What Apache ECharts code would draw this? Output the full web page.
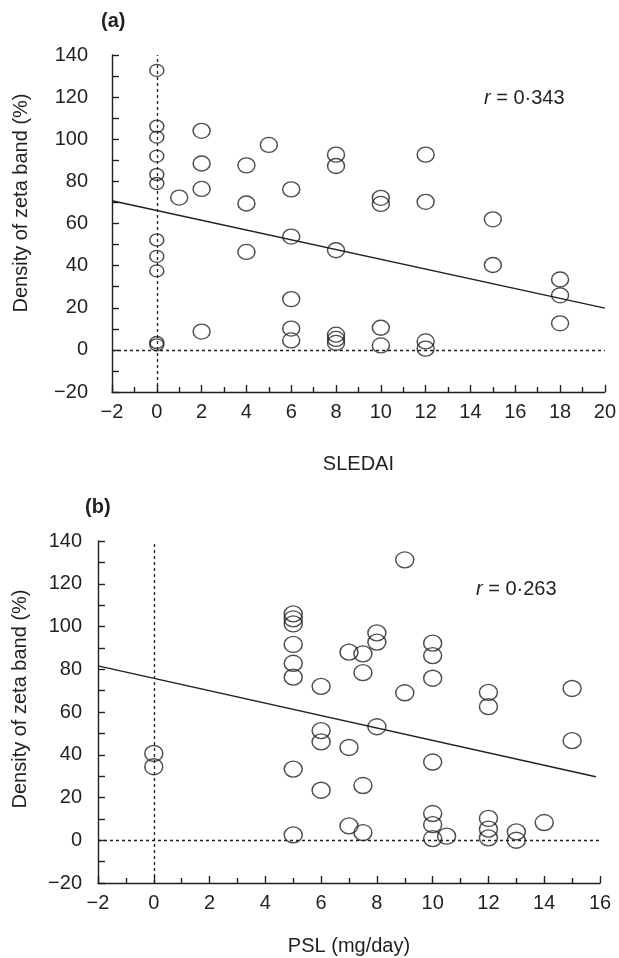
<!DOCTYPE html>
<html style="height: 100%">
<head>
  <meta charset="utf-8">
  <title>Density of zeta band</title>
  <script src="https://cdn.jsdelivr.net/npm/echarts@6/dist/echarts.min.js"></script>
</head>
<body style="height: 100%; margin: 0; background: #fff">
<div id="container" style="width: 619px; height: 958px"></div>
<script>
// panel (a): SLEDAI vs density of zeta band (%)
var sledaiZero = [[0, 132.7], [0, 106.2], [0, 101], [0, 92], [0, 83.3], [0, 79], [0, 52.2], [0, 44.4], [0, 37.5], [0, 3.5], [0, 2.4]];
var sledaiPoints = [
  [1, 72.3],
  [2, 104], [2, 88.5], [2, 76.4], [2, 8.7],
  [4, 87.6], [4, 69.5], [4, 46.5],
  [5, 97.3],
  [6, 76.2], [6, 53.8], [6, 24.1], [6, 10.1], [6, 4.5],
  [8, 92.7], [8, 87.3], [8, 47.3], [8, 7.2], [8, 5.2], [8, 3.3],
  [10, 72.2], [10, 69.3], [10, 10.5], [10, 2.1],
  [12, 92.7], [12, 70.3], [12, 4], [12, 0.6],
  [15, 62], [15, 40.3],
  [18, 33.4], [18, 25.9], [18, 12.6]
];
var sledaiFit = [[-2, 70.8], [20, 19.8]];

// panel (b): PSL (mg/day) vs density of zeta band (%)
var pslPoints = [
  [0, 40.6], [0, 34.4],
  [5, 105.9], [5, 103.6], [5, 101.2], [5, 91.6], [5, 82.8], [5, 76.3], [5, 33.3], [5, 2.5],
  [6, 72], [6, 51.3], [6, 46], [6, 23.4],
  [7, 88], [7, 43.4], [7, 6.7],
  [7.5, 87.2], [7.5, 78.4], [7.5, 25.6], [7.5, 3.6],
  [8, 97], [8, 92.7], [8, 53.1],
  [9, 131.2], [9, 69],
  [10, 92.2], [10, 86.4], [10, 75.8], [10, 36.6], [10, 12.5], [10, 7.3], [10, 0.8],
  [10.5, 1.9],
  [12, 69.2], [12, 62.5], [12, 10.2], [12, 5.2], [12, 1.1],
  [13, 3.9], [13, 0],
  [14, 8.3],
  [15, 71], [15, 46.6]
];
var pslFit = [[-2, 81.6], [15.85, 29.7]];

var ink = '#231f20';
var font = 'Liberation Sans';

function minus(v) { return v < 0 ? '\u2212' + Math.abs(v) : String(v); }

function xAxisOf(idx, min, max, name, gap) {
  return {
    gridIndex: idx, type: 'value', min: min, max: max, interval: 2,
    name: name, nameLocation: 'middle', nameGap: gap,
    nameTextStyle: { color: ink, fontSize: 20, fontFamily: font },
    axisLine: { show: true, onZero: false, lineStyle: { color: ink, width: 1.4 } },
    axisTick: { show: true, inside: true, length: 7, lineStyle: { color: ink, width: 1.4 } },
    minorTick: { show: true, splitNumber: 2, length: 5, lineStyle: { color: ink, width: 1.4 } },
    axisLabel: { color: ink, fontSize: 20, fontFamily: font, margin: 10, formatter: minus },
    splitLine: { show: false }
  };
}

function yAxisOf(idx, margin) {
  return {
    gridIndex: idx, type: 'value', min: -20, max: 140, interval: 20,
    axisLine: { show: true, onZero: false, lineStyle: { color: ink, width: 1.4 } },
    axisTick: { show: true, inside: true, length: 7, lineStyle: { color: ink, width: 1.4 } },
    minorTick: { show: true, splitNumber: 2, length: 7, lineStyle: { color: ink, width: 1.4 } },
    axisLabel: { color: ink, fontSize: 20, fontFamily: font, margin: margin, formatter: minus },
    splitLine: { show: false }
  };
}

var ring = { color: 'rgba(0,0,0,0)', borderColor: ink, borderWidth: 1.4 };
var dotted = {
  silent: true, symbol: 'none', label: { show: false },
  lineStyle: { color: ink, width: 1.3, type: [3, 3] },
  emphasis: { disabled: true },
  data: [{ xAxis: 0 }, { yAxis: 0 }]
};

var myChart = echarts.init(document.getElementById('container'));

var option = {
  animation: false,
  backgroundColor: '#fff',
  grid: [
    { left: 112, top: 55, width: 500, height: 337 },
    { left: 98, top: 541, width: 502, height: 342 }
  ],
  xAxis: [
    xAxisOf(0, -2, 20, 'SLEDAI', 62),
    xAxisOf(1, -2, 16, 'PSL (mg/day)', 53)
  ],
  yAxis: [yAxisOf(0, 24), yAxisOf(1, 16)],
  graphic: [
    { type: 'text', left: 101, top: 11, style: { text: '(a)', font: 'bold 20px ' + font, fill: ink } },
    { type: 'text', left: 85, top: 497, style: { text: '(b)', font: 'bold 20px ' + font, fill: ink } },
    { type: 'text', x: 21, y: 203, rotation: Math.PI / 2,
      style: { text: 'Density of zeta band (%)', font: '20px ' + font, fill: ink, align: 'center', verticalAlign: 'middle' } },
    { type: 'text', x: 20, y: 699, rotation: Math.PI / 2,
      style: { text: 'Density of zeta band (%)', font: '20px ' + font, fill: ink, align: 'center', verticalAlign: 'middle' } },
    { type: 'text', left: 484, top: 88,
      style: { text: '{i|r} = 0\u00b7343', fill: ink, font: '20px ' + font,
        rich: { i: { fontStyle: 'italic', fontSize: 20, fontFamily: font, fill: ink } } } },
    { type: 'text', left: 476, top: 579,
      style: { text: '{i|r} = 0\u00b7263', fill: ink, font: '20px ' + font,
        rich: { i: { fontStyle: 'italic', fontSize: 20, fontFamily: font, fill: ink } } } }
  ],
  series: [
    { type: 'scatter', xAxisIndex: 0, yAxisIndex: 0, symbol: 'circle', symbolSize: [17, 15],
      itemStyle: ring, data: sledaiPoints, markLine: dotted, z: 3 },
    { type: 'scatter', xAxisIndex: 0, yAxisIndex: 0, symbol: 'circle', symbolSize: [14, 12],
      itemStyle: ring, data: sledaiZero, z: 3 },
    { type: 'line', xAxisIndex: 0, yAxisIndex: 0, data: sledaiFit, symbol: 'none',
      lineStyle: { color: ink, width: 1.4 }, z: 2 },
    { type: 'scatter', xAxisIndex: 1, yAxisIndex: 1, symbol: 'circle', symbolSize: [18, 16],
      itemStyle: ring, data: pslPoints, markLine: dotted, z: 3 },
    { type: 'line', xAxisIndex: 1, yAxisIndex: 1, data: pslFit, symbol: 'none',
      lineStyle: { color: ink, width: 1.4 }, z: 2 }
  ]
};

myChart.setOption(option);
</script>
</body>
</html>
